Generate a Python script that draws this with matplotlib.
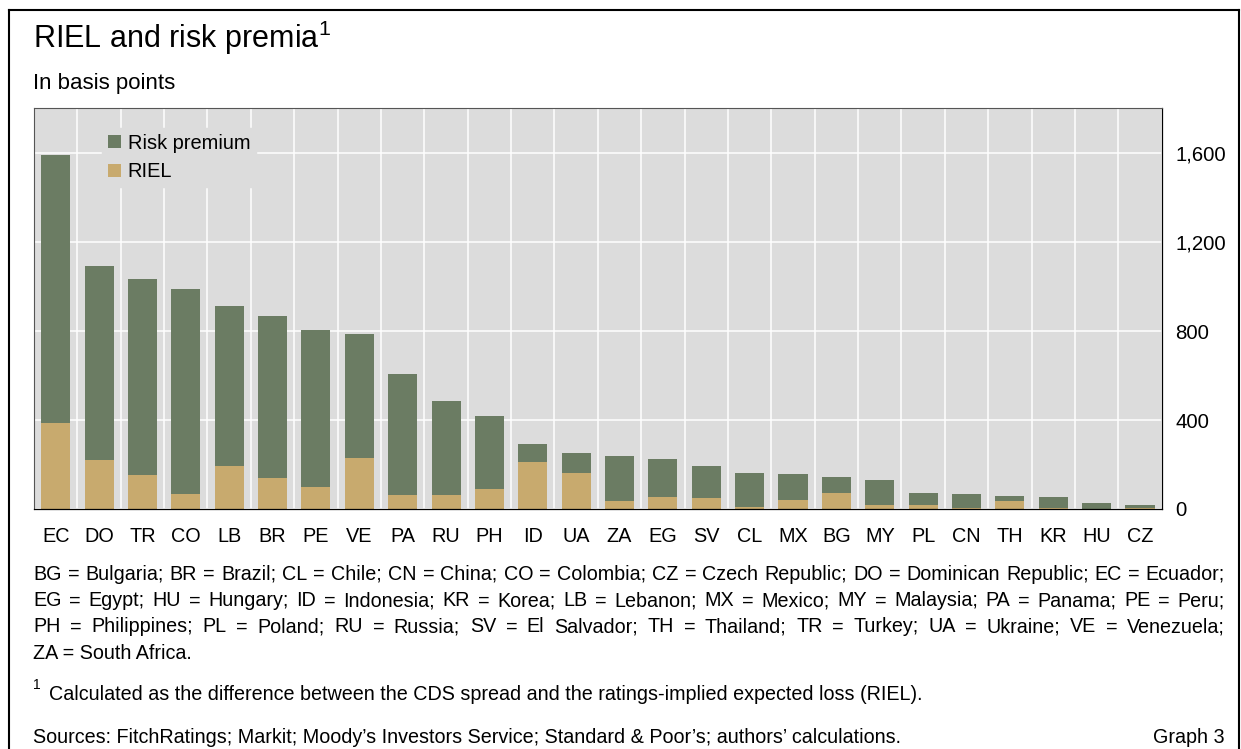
#!/usr/bin/env python

# RIEL and risk premia - stacked bars per country

import matplotlib
matplotlib.use('Agg')
from matplotlib import pyplot as plt
from matplotlib.lines import Line2D
from matplotlib.ticker import FuncFormatter
import numpy as np

countries = ['EC', 'DO', 'TR', 'CO', 'LB', 'BR', 'PE', 'VE', 'PA', 'RU', 'PH', 'ID', 'UA',
             'ZA', 'EG', 'SV', 'CL', 'MX', 'BG', 'MY', 'PL', 'CN', 'TH', 'KR', 'HU', 'CZ']
riel = [387, 220, 152, 67, 193, 139, 99, 229, 63, 63, 90, 211, 162,
        36, 54, 49, 9, 40, 72, 18, 18, 4, 36, 4, 0, 4]
risk_premium = [1205, 875, 884, 924, 722, 731, 708, 556, 543, 422, 328, 81, 90,
                202, 171, 144, 153, 117, 72, 112, 54, 63, 22, 50, 27, 14]
y_ticks = [0, 400, 800, 1200, 1600]

footer_lines = [
    "BG = Bulgaria; BR = Brazil; CL = Chile; CN = China; CO = Colombia; CZ = Czech Republic; DO = Dominican Republic; EC = Ecuador;",
    "EG = Egypt; HU = Hungary; ID = Indonesia; KR = Korea; LB = Lebanon; MX = Mexico; MY = Malaysia; PA = Panama; PE = Peru;",
    "PH = Philippines; PL = Poland; RU = Russia; SV = El Salvador; TH = Thailand; TR = Turkey; UA = Ukraine; VE = Venezuela;",
    "ZA = South Africa.",
]

green = '#6B7C63'
tan = '#C8AA6E'
bg = '#DCDCDC'
fs = 14.2  # body text size

plt.rcParams['font.family'] = ['Liberation Sans', 'DejaVu Sans']
plt.rcParams['mathtext.default'] = 'regular'

W, H = 1241, 749
fig = plt.figure(figsize=(W / 100, H / 100), dpi=100)

def fx(px):
    return px / W

def fy(py):
    return 1 - py / H

ax = fig.add_axes([fx(34), fy(509), fx(1161.7) - fx(34), fy(107.7) - fy(509)])
ax.set_facecolor(bg)
ax.set_axisbelow(True)

x = np.arange(len(countries))
ax.bar(x, riel, width=0.67, color=tan, label='RIEL', zorder=2)
ax.bar(x, risk_premium, width=0.67, bottom=riel, color=green, label='Risk premium', zorder=2)

ax.set_xlim(-0.5, len(countries) - 0.5)
ax.set_ylim(0, 1805)
ax.set_xticks(x)
ax.set_xticklabels(countries, fontsize=14.3)
ax.set_xticks(np.arange(len(countries) + 1) - 0.5, minor=True)
ax.set_yticks(y_ticks)
ax.yaxis.tick_right()
ax.yaxis.set_major_formatter(FuncFormatter(lambda v, p: f'{int(v):,}'))
ax.tick_params(axis='y', length=0, pad=10, labelsize=14.7)
ax.tick_params(axis='x', which='both', length=0, pad=13)
ax.grid(axis='y', which='major', color='white', linewidth=1.1)
ax.grid(axis='x', which='minor', color='white', linewidth=1.1)
ax.grid(axis='x', which='major', visible=False)
for s in ['top', 'left']:
    ax.spines[s].set_color('#555555')
    ax.spines[s].set_linewidth(0.8)
for s in ['bottom', 'right']:
    ax.spines[s].set_color('black')
    ax.spines[s].set_linewidth(0.9)

handles, labels = ax.get_legend_handles_labels()
leg = ax.legend(handles[::-1], labels[::-1], loc='upper left',
                bbox_to_anchor=(0.0603, 0.950), fontsize=14.4, frameon=True,
                facecolor=bg, edgecolor=bg, framealpha=1, fancybox=False,
                handlelength=0.65, handleheight=0.65, handletextpad=0.34,
                labelspacing=0.48, borderpad=0.3, borderaxespad=0)
leg.set_zorder(5)

# titles
fig.text(fx(33), fy(48), 'RIEL and risk premia$^{1}$', fontsize=22, va='baseline')
fig.text(fx(33), fy(89), 'In basis points', fontsize=16, va='baseline')

# footer with justified lines
renderer = fig.canvas.get_renderer()
left_px, right_px = 33, 1225
baselines = [580, 606.5, 632.5, 659]
for line, base in zip(footer_lines, baselines):
    if line is footer_lines[-1]:
        fig.text(fx(left_px), fy(base), line, fontsize=fs, va='baseline')
        continue
    words = line.split(' ')
    texts = [fig.text(0, fy(base), w, fontsize=fs, va='baseline') for w in words]
    widths = [t.get_window_extent(renderer).width for t in texts]
    gap = (right_px - left_px - sum(widths)) / (len(words) - 1)
    pos = left_px
    for t, w in zip(texts, widths):
        t.set_x(fx(pos))
        pos += w + gap

fig.text(fx(33), fy(689), '1', fontsize=10, va='baseline')
fig.text(fx(49), fy(700), 'Calculated as the difference between the CDS spread and the ratings-implied expected loss (RIEL).',
         fontsize=fs, va='baseline')
fig.text(fx(33), fy(743), "Sources: FitchRatings; Markit; Moody\u2019s Investors Service; Standard & Poor\u2019s; authors\u2019 calculations.",
         fontsize=fs, va='baseline')
fig.text(fx(1225), fy(743), 'Graph 3', fontsize=fs, va='baseline', ha='right')

# outer frame (open at the bottom)
lw = 1.5
fig.add_artist(Line2D([fx(9), fx(9)], [0, fy(10)], color='black', linewidth=lw, transform=fig.transFigure))
fig.add_artist(Line2D([fx(9), fx(1239)], [fy(10), fy(10)], color='black', linewidth=lw, transform=fig.transFigure))
fig.add_artist(Line2D([fx(1239), fx(1239)], [fy(10), 0], color='black', linewidth=lw, transform=fig.transFigure))

plt.savefig('out.png', dpi=100)
